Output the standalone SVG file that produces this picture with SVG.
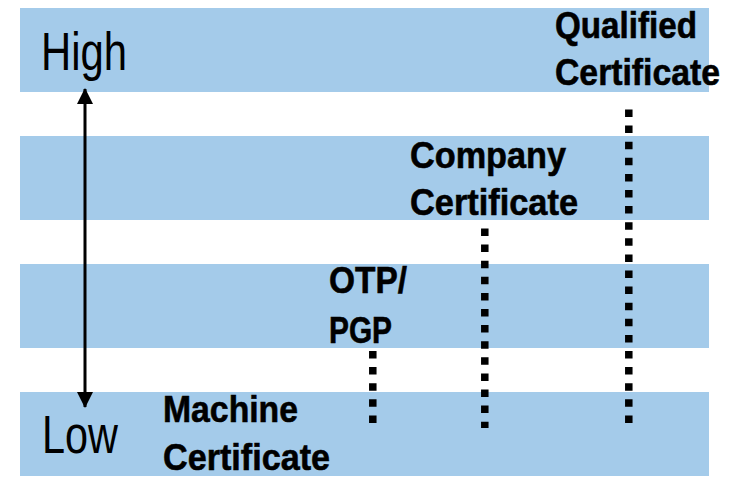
<svg xmlns="http://www.w3.org/2000/svg" width="732" height="478" viewBox="0 0 732 478">
<style>
.band{fill:#a4cbea}
.lvl{font-family:"Liberation Sans",Arial,sans-serif;font-size:53px;fill:#000}
.lbl{font-family:"Liberation Sans",Arial,sans-serif;font-size:37px;font-weight:bold;fill:#000;stroke:#000;stroke-width:0.6}
.dot{stroke:#000;stroke-width:7.5;stroke-dasharray:7.5 8.6;fill:none}
.axis{stroke:#000;stroke-width:3;fill:none}
</style>
<defs>
<marker id="ah" viewBox="0 0 16 16" refX="15" refY="8" markerWidth="16" markerHeight="16" markerUnits="userSpaceOnUse" orient="auto-start-reverse">
<path d="M0,0 L16,8 L0,16 Z" fill="#000"/>
</marker>
</defs>
<g id="bands">
<rect class="band" x="20" y="8" width="689" height="84"/>
<rect class="band" x="20" y="136" width="689" height="84"/>
<rect class="band" x="20" y="264" width="689" height="84"/>
<rect class="band" x="20" y="392" width="689" height="84"/>
</g>
<g id="connectors">
<line class="axis" x1="85" y1="89" x2="85" y2="407" marker-start="url(#ah)" marker-end="url(#ah)"/>
<line class="dot" x1="372.8" y1="351" x2="372.8" y2="423"/>
<line class="dot" x1="484.8" y1="228.5" x2="484.8" y2="428"/>
<line class="dot" x1="628.8" y1="109.5" x2="628.8" y2="423"/>
</g>
<g id="high"><text class="lvl" x="41" y="70" textLength="86" lengthAdjust="spacingAndGlyphs">High</text></g>
<g id="low"><text class="lvl" x="42" y="453" textLength="76" lengthAdjust="spacingAndGlyphs">Low</text></g>
<g id="qualified">
<text class="lbl" x="555" y="38" textLength="142" lengthAdjust="spacingAndGlyphs">Qualified</text>
<text class="lbl" x="555" y="85" textLength="165" lengthAdjust="spacingAndGlyphs">Certificate</text>
</g>
<g id="company">
<text class="lbl" x="410" y="168" textLength="156" lengthAdjust="spacingAndGlyphs">Company</text>
<text class="lbl" x="410" y="215" textLength="168" lengthAdjust="spacingAndGlyphs">Certificate</text>
</g>
<g id="otp">
<text class="lbl" x="329" y="293" textLength="78" lengthAdjust="spacingAndGlyphs">OTP/</text>
<text class="lbl" x="329" y="343" textLength="63" lengthAdjust="spacingAndGlyphs">PGP</text>
</g>
<g id="machine">
<text class="lbl" x="163" y="422" textLength="135" lengthAdjust="spacingAndGlyphs">Machine</text>
<text class="lbl" x="163" y="470" textLength="167" lengthAdjust="spacingAndGlyphs">Certificate</text>
</g>
</svg>
